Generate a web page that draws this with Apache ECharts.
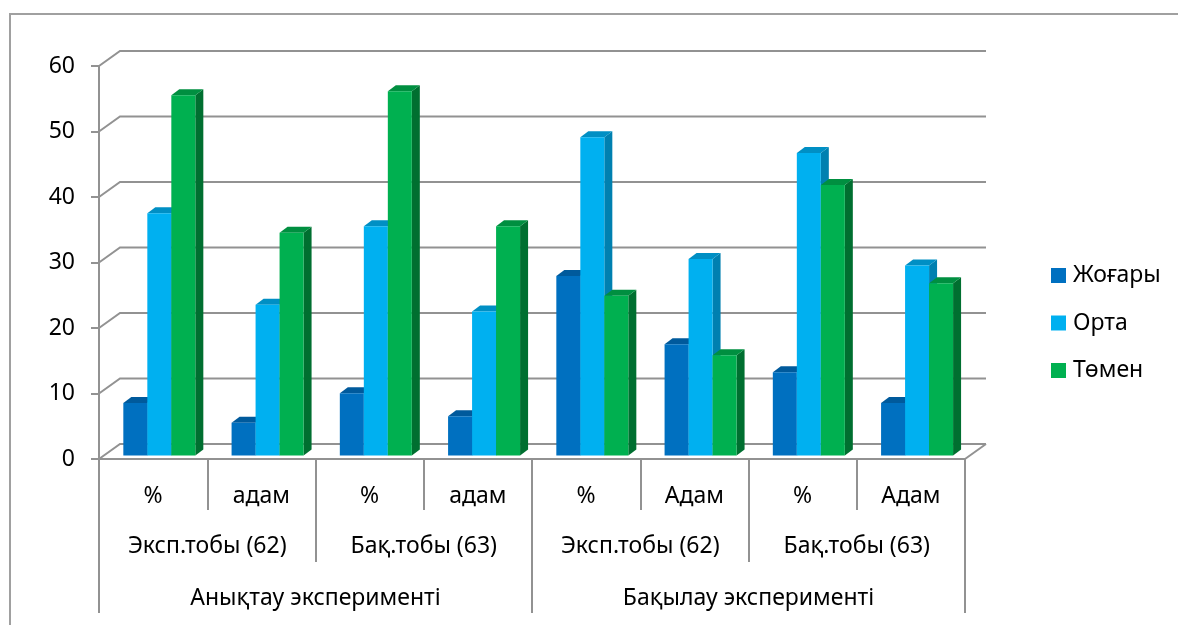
<!DOCTYPE html>
<html><head><meta charset="utf-8">
<style>html,body{margin:0;padding:0;background:#fff}#c{width:1178px;height:625px}</style>
<script src="https://cdn.jsdelivr.net/npm/echarts@6/dist/echarts.min.js"></script>
</head><body><div id="c"></div>
<script>
const measureLabels = ['%','адам','%','адам','%','Адам','%','Адам'];
const groupLabels = ['Эксп.тобы (62)','Бақ.тобы (63)','Эксп.тобы (62)','Бақ.тобы (63)'];
const stageLabels = ['Анықтау эксперименті','Бақылау эксперименті'];
const yTicks = [0,10,20,30,40,50,60];
const high = [8,5,9.5,6,27.4,17,12.7,8];
const mid = [37,23,35,22,48.6,30,46.2,29];
const low = [55,34,55.6,35,24.4,15.3,41.3,26.3];

const FONT = '"Noto Sans","Open Sans",sans-serif';
const FS = 23;
const GRAY = '#929292';
const wallDx = 21, wallDy = -15;
const barW = 24, depthX = 8, depthY = -6, planeDx = 6.2, planeDy = -3.5;

function wallItem(params, api){
  const v = api.value(0);
  const bw = api.size([1,0])[0];
  const L = api.coord([0,v]); const R = api.coord([7,v]);
  const x0 = L[0]-bw/2, x1 = R[0]+bw/2, y = L[1];
  const children = [{type:'polyline',shape:{points:[[x0,y],[x0+wallDx,y+wallDy],[x1+wallDx,y+wallDy]]},
    style:{stroke:GRAY,lineWidth:2,fill:null}}];
  if(v===0){
    children.push({type:'line',shape:{x1:x1,y1:y,x2:x1+wallDx,y2:y+wallDy},style:{stroke:GRAY,lineWidth:2}});
  }
  return {type:'group',children};
}
function barRenderer(k,face,top,side){
  return function(params, api){
    const idx = api.value(0), val = api.value(1);
    const a = api.coord([idx,val]), b = api.coord([idx,0]);
    const x = a[0]+planeDx+(k-1.5)*barW, yT = a[1]+planeDy, yB = b[1]+planeDy;
    const xr = x+barW;
    return {type:'group',children:[
      {type:'polygon',shape:{points:[[xr,yT],[xr+depthX,yT+depthY],[xr+depthX,yB+depthY],[xr,yB]]},style:{fill:side}},
      {type:'polygon',shape:{points:[[x,yT],[x+depthX,yT+depthY],[xr+depthX,yT+depthY],[xr,yT]]},style:{fill:top}},
      {type:'rect',shape:{x:x,y:yT,width:barW,height:yB-yT},style:{fill:face}}
    ]};
  };
}
function barSeries(name,values,k,face,top,side){
  return {name,type:'custom',coordinateSystem:'cartesian2d',xAxisIndex:0,yAxisIndex:0,z:3+k,
    itemStyle:{color:face},encode:{x:0,y:1},
    data:values.map((v,i)=>[i,v]),renderItem:barRenderer(k,face,top,side),silent:true};
}
function levelAxis(data,tickLen,margin,lineShow){
  return {type:'category',data,position:'bottom',boundaryGap:true,
    axisLine:{show:lineShow,lineStyle:{color:GRAY,width:2}},
    axisTick:{show:true,length:tickLen,interval:0,alignWithLabel:false,lineStyle:{color:GRAY,width:2}},
    axisLabel:{interval:0,margin,color:'#000',fontFamily:FONT,fontSize:FS,hideOverlap:false},
    splitLine:{show:false}};
}
const chart = echarts.init(document.getElementById('c'),null,{renderer:'canvas'});
chart.setOption({
  animation:false,backgroundColor:'#fff',
  graphic:[{type:'polyline',silent:true,shape:{points:[[10,625],[10,14],[1178,14]]},style:{stroke:'#a0a0a0',lineWidth:2,fill:null}}],
  legend:{show:true,orient:'vertical',left:1046,top:259,itemWidth:15,itemHeight:15,itemGap:24.5,icon:'rect',
    data:['Жоғары','Орта','Төмен'],selectedMode:false,
    textStyle:{color:'#000',fontFamily:FONT,fontSize:FS,padding:[0,0,0,2]}},
  grid:{left:99,top:66,width:866,height:393,containLabel:false},
  xAxis:[levelAxis(measureLabels,51,26,true),levelAxis(groupLabels,103,76,false),levelAxis(stageLabels,154,128,false)],
  yAxis:{type:'value',min:0,max:60,interval:10,
    axisLine:{show:true,lineStyle:{color:GRAY,width:2}},
    axisTick:{show:true,length:8,lineStyle:{color:GRAY,width:2}},
    axisLabel:{margin:24,color:'#000',fontFamily:FONT,fontSize:FS,padding:[5,0,0,0]},
    splitLine:{show:false}},
  series:[
    {type:'custom',name:'wall',coordinateSystem:'cartesian2d',z:1,silent:true,encode:{y:0},
      data:yTicks.map(v=>[v]),renderItem:wallItem},
    barSeries('Жоғары',high,0,'#0070C0','#005A9C','#005A9C'),
    barSeries('Орта',mid,1,'#00B0F0','#008FC4','#0080B0'),
    barSeries('Төмен',low,2,'#00B050','#008F40','#006F30')
  ]
});
</script></body></html>
